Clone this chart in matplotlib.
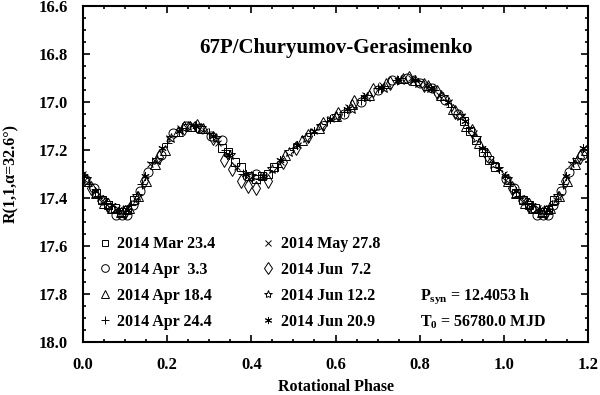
import numpy as np
import matplotlib
matplotlib.use("Agg")
import matplotlib.pyplot as plt
from matplotlib.ticker import MultipleLocator

plt.rcParams["font.family"] = ["Liberation Serif", "DejaVu Serif"]
plt.rcParams["font.weight"] = "bold"
plt.rcParams["mathtext.fontset"] = "custom"
plt.rcParams["mathtext.rm"] = "Liberation Serif:bold"
plt.rcParams["mathtext.it"] = "Liberation Serif:bold"
plt.rcParams["mathtext.bf"] = "Liberation Serif:bold"

# rotational phase / reduced magnitude, one pair per night
sq_ph = [0.030, 0.045, 0.060, 0.075, 0.090, 0.105, 0.120, 0.330, 0.345, 0.360, 0.375,
         0.395, 0.410, 0.425, 0.440, 0.455, 0.905, 0.920, 0.935, 0.950, 0.965, 0.980]
sq_mag = [17.38, 17.41, 17.43, 17.44, 17.46, 17.45, 17.41, 17.19, 17.21, 17.25, 17.27,
          17.31, 17.32, 17.31, 17.30, 17.27, 17.08, 17.12, 17.16, 17.21, 17.24, 17.27]

circ_ph = [0.005, 0.025, 0.045, 0.065, 0.078, 0.092, 0.105, 0.118, 0.135, 0.155, 0.185, 0.215,
           0.245, 0.275, 0.305, 0.330, 0.410, 0.620, 0.660, 0.700, 0.735, 0.770, 0.800, 0.830,
           0.860, 0.890]
circ_mag = [17.32, 17.36, 17.41, 17.44, 17.47, 17.47, 17.47, 17.43, 17.37, 17.29, 17.22, 17.13,
            17.10, 17.11, 17.14, 17.16, 17.30, 17.05, 17.00, 16.95, 16.91, 16.90, 16.92, 16.94,
            16.99, 17.05]

tri_ph = [0.010, 0.030, 0.050, 0.070, 0.090, 0.110, 0.130, 0.150, 0.170, 0.195, 0.225, 0.255,
          0.285, 0.480, 0.520, 0.560, 0.600, 0.640, 0.680, 0.720, 0.760, 0.790, 0.820, 0.850,
          0.880, 0.910, 0.940]
tri_mag = [17.33, 17.38, 17.42, 17.44, 17.46, 17.44, 17.39, 17.33, 17.26, 17.20, 17.12, 17.10,
           17.11, 17.22, 17.16, 17.11, 17.06, 17.01, 16.97, 16.92, 16.90, 16.91, 16.93, 16.97,
           17.03, 17.10, 17.17]

plus_ph = [0.015, 0.035, 0.055, 0.085, 0.115, 0.140, 0.165, 0.200, 0.235, 0.265, 0.300, 0.340,
           0.380, 0.420, 0.460, 0.500, 0.540, 0.580, 0.620, 0.660, 0.700, 0.745, 0.790, 0.835,
           0.875, 0.915, 0.955, 0.985]
plus_mag = [17.34, 17.39, 17.42, 17.45, 17.43, 17.34, 17.25, 17.17, 17.11, 17.10, 17.13, 17.20,
            17.30, 17.32, 17.27, 17.19, 17.13, 17.08, 17.04, 16.99, 16.94, 16.91, 16.91, 16.95,
            17.02, 17.11, 17.21, 17.27]

x_ph = [0.000, 0.040, 0.080, 0.125, 0.160, 0.205, 0.230, 0.260, 0.290, 0.320, 0.365, 0.395,
        0.430, 0.470, 0.510, 0.550, 0.590, 0.630, 0.670, 0.710, 0.750, 0.780, 0.815, 0.845,
        0.870, 0.900, 0.930, 0.970]
x_mag = [17.30, 17.40, 17.44, 17.41, 17.26, 17.15, 17.11, 17.09, 17.12, 17.17, 17.27, 17.32,
         17.31, 17.25, 17.18, 17.12, 17.07, 17.02, 16.97, 16.93, 16.91, 16.90, 16.93, 16.97,
         17.00, 17.06, 17.13, 17.24]

dia_ph = [0.020, 0.060, 0.100, 0.145, 0.180, 0.240, 0.270, 0.310, 0.335, 0.355, 0.375, 0.392,
          0.412, 0.440, 0.475, 0.505, 0.535, 0.570, 0.605, 0.645, 0.690, 0.730, 0.775, 0.810,
          0.840, 0.885, 0.925, 0.960]
dia_mag = [17.36, 17.43, 17.46, 17.33, 17.23, 17.11, 17.10, 17.15, 17.24, 17.28, 17.33, 17.35,
           17.36, 17.33, 17.25, 17.19, 17.14, 17.09, 17.05, 17.00, 16.95, 16.92, 16.90, 16.93,
           16.96, 17.04, 17.12, 17.22]

star_ph = [0.008, 0.048, 0.095, 0.128, 0.175, 0.210, 0.250, 0.280, 0.315, 0.350, 0.400, 0.450,
           0.490, 0.530, 0.565, 0.600, 0.640, 0.675, 0.715, 0.755, 0.795, 0.825, 0.855, 0.895,
           0.935, 0.975]
star_mag = [17.32, 17.41, 17.45, 17.39, 17.24, 17.15, 17.10, 17.11, 17.15, 17.22, 17.31, 17.28,
            17.21, 17.15, 17.10, 17.06, 17.03, 16.98, 16.94, 16.91, 16.92, 16.94, 16.98, 17.06,
            17.15, 17.26]

ast_ph = [0.003, 0.028, 0.068, 0.108, 0.148, 0.188, 0.228, 0.268, 0.308, 0.348, 0.388, 0.428,
          0.468, 0.508, 0.548, 0.588, 0.628, 0.668, 0.708, 0.748, 0.788, 0.828, 0.868, 0.908,
          0.948, 0.988]
ast_mag = [17.31, 17.37, 17.43, 17.45, 17.31, 17.19, 17.12, 17.10, 17.14, 17.22, 17.30, 17.31,
           17.24, 17.18, 17.12, 17.07, 17.03, 16.98, 16.94, 16.91, 16.91, 16.94, 17.00, 17.08,
           17.19, 17.28]

nights = ["2014 Mar 23.4", "2014 Apr  3.3", "2014 Apr 18.4", "2014 Apr 24.4",
          "2014 May 27.8", "2014 Jun  7.2", "2014 Jun 12.2", "2014 Jun 20.9"]
series = [(sq_ph, sq_mag), (circ_ph, circ_mag), (tri_ph, tri_mag), (plus_ph, plus_mag),
          (x_ph, x_mag), (dia_ph, dia_mag), (star_ph, star_mag), (ast_ph, ast_mag)]
markers = ["s", "o", "^", "+", "x", "d", "*", (6, 2, 0)]
msizes = [5.5, 6.5, 6.5, 7, 5, 7, 7, 6]

fig = plt.figure(figsize=(6.0, 3.95), dpi=100)
ax = fig.add_axes([83 / 600, 1 - 342 / 395, 505 / 600, 336 / 395])

handles = []
for (ph, mag), m, ms, lab in zip(series, markers, msizes, nights):
    ph = np.array(ph)
    mag = np.array(mag)
    # repeat the first part of the rotation past phase 1
    wrap = ph < 0.2
    xs = np.concatenate([ph, ph[wrap] + 1.0])
    ys = np.concatenate([mag, mag[wrap]])
    h, = ax.plot(xs, ys, ls="none", marker=m, ms=ms, mfc="none", mec="black",
                 mew=0.7, label=lab)
    handles.append(h)

ax.set_xlim(0.0, 1.2)
ax.set_ylim(18.0, 16.6)
ax.xaxis.set_major_locator(MultipleLocator(0.2))
ax.xaxis.set_minor_locator(MultipleLocator(0.05))
ax.yaxis.set_major_locator(MultipleLocator(0.2))
ax.yaxis.set_minor_locator(MultipleLocator(0.05))
ax.xaxis.set_major_formatter(plt.FormatStrFormatter("%.1f"))
ax.yaxis.set_major_formatter(plt.FormatStrFormatter("%.1f"))
ax.tick_params(which="both", direction="in", top=True, right=True, width=1.2)
ax.tick_params(which="major", length=5, labelsize=12)
ax.tick_params(axis="y", which="major", pad=11)
ax.tick_params(axis="x", which="major", pad=11)
ax.tick_params(which="minor", length=2.5)
for s in ax.spines.values():
    s.set_linewidth(1.5)

ax.set_xlabel("Rotational Phase", fontsize=11.5, fontweight="bold", labelpad=4)
ax.set_ylabel("R(1,1,α=32.6°)", fontsize=11.5, fontweight="bold", labelpad=14)

ax.text(0.5, 0.875, "67P/Churyumov-Gerasimenko", transform=ax.transAxes,
        ha="center", va="center", fontsize=15, fontweight="bold")

ax.legend(handles=handles, ncol=2, loc="upper left", bbox_to_anchor=(0.03, 0.315),
          frameon=False, fontsize=11.5, handlelength=0.8, handletextpad=0.4,
          labelspacing=0.62, columnspacing=2.9, borderpad=0, borderaxespad=0,
          markerscale=0.85)

ax.text(0.80, 17.81, r"P$_{\mathrm{syn}}$ = 12.4053 h", fontsize=11.5, fontweight="bold",
        va="center", ha="left")
ax.text(0.80, 17.917, r"T$_{\mathrm{0}}$ = 56780.0 MJD", fontsize=11.5, fontweight="bold",
        va="center", ha="left")

fig.savefig("out.png", dpi=100)
